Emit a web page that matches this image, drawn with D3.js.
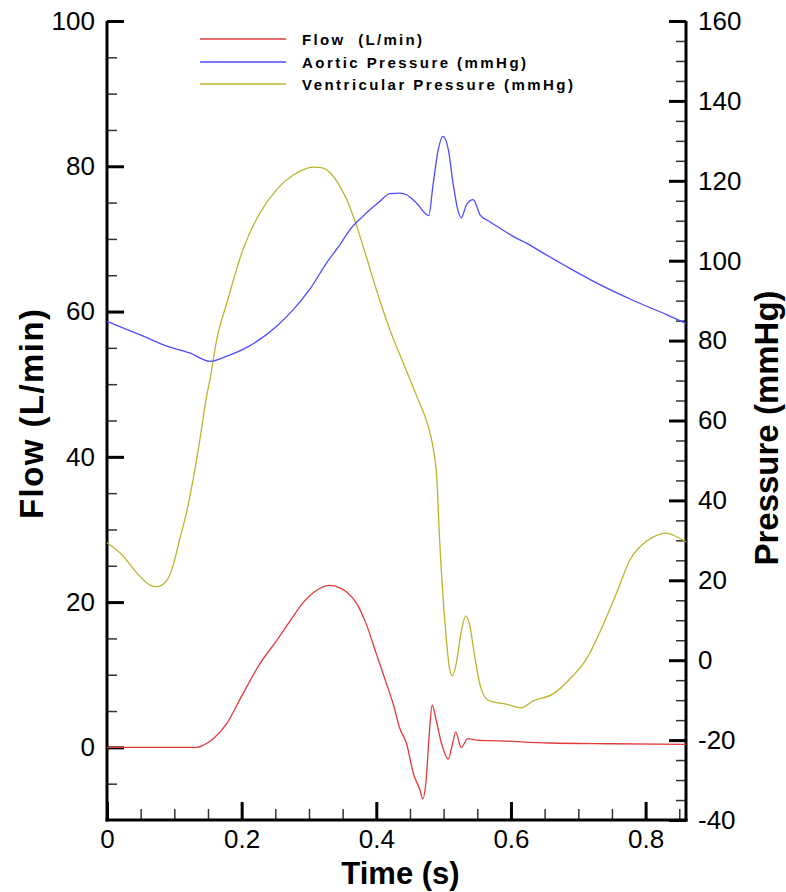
<!DOCTYPE html>
<html><head><meta charset="utf-8">
<script src="https://cdn.jsdelivr.net/npm/d3@7"></script>
<style>
html,body{margin:0;padding:0;background:#fff;}
svg{display:block;font-family:"Liberation Sans",Arial,sans-serif;}
</style></head>
<body>
<svg id="chart" width="786" height="892"></svg>
<script>
// ---- data ----
const flowTime = [0,0.05,0.10,0.134,0.145,0.158,0.178,0.202,0.227,0.252,0.272,0.291,0.311,0.331,0.345,0.356,0.371,0.385,0.400,0.415,0.425,0.435,0.445,0.455,0.465,0.469,0.474,0.479,0.483,0.489,0.497,0.507,0.512,0.518,0.526,0.536,0.549,0.583,0.657,0.75,0.86];
const flowValues = [0,0,0,0,0.4,1.2,3.3,7.4,11.5,14.7,17.4,19.9,21.6,22.3,22.0,21.4,19.8,17.0,12.9,8.8,6.0,2.6,0.5,-3.6,-5.9,-7.1,-4.5,2.3,5.8,3.7,0.5,-1.6,0.0,2.1,0.0,1.2,1.0,0.9,0.6,0.5,0.4];

const aorticTime = [0,0.029,0.054,0.089,0.123,0.153,0.178,0.202,0.227,0.252,0.277,0.301,0.326,0.346,0.361,0.380,0.405,0.420,0.435,0.445,0.460,0.478,0.484,0.492,0.499,0.507,0.514,0.521,0.526,0.534,0.544,0.554,0.568,0.583,0.603,0.623,0.638,0.682,0.732,0.781,0.831,0.86];
const aorticValues = [84.8,82.8,81.1,78.6,76.9,74.8,76.1,77.8,80.3,83.6,87.8,92.8,99.4,104,107.8,111.1,114.8,116.8,116.9,116.5,114.4,111.3,118.6,127.8,131.1,127.8,119.4,112.8,110.7,114,115.3,111.5,109.8,108.2,106.1,104.4,102.9,98.6,94,90.1,86.5,84.3];

const ventTime = [0,0.024,0.044,0.064,0.074,0.089,0.098,0.108,0.118,0.128,0.138,0.148,0.153,0.163,0.178,0.202,0.227,0.252,0.277,0.292,0.306,0.318,0.331,0.346,0.356,0.371,0.385,0.400,0.420,0.440,0.460,0.477,0.484,0.490,0.494,0.499,0.504,0.509,0.513,0.519,0.526,0.533,0.539,0.546,0.556,0.568,0.593,0.615,0.633,0.662,0.692,0.712,0.732,0.747,0.761,0.776,0.791,0.811,0.831,0.846,0.86];
const ventValues = [29.4,26.1,21.9,18.8,18.4,20.0,23.6,30.3,36.9,45.3,55.3,66.1,70.3,80.3,89.4,102.8,111.9,117.8,121.5,122.8,123.4,123.3,122.1,118.6,115.3,108.6,101.1,92.8,82.8,74.4,66.1,58.6,53.6,45.3,30.3,16.1,5.3,-2.3,-3.9,-0.6,7.0,11.1,8.6,1.1,-7.3,-10.2,-11.0,-11.9,-10.2,-8.5,-3.9,0.25,7.0,12.8,18.6,24.9,28.3,30.8,31.8,30.9,29.6];

const xTicks = [0,0.2,0.4,0.6,0.8];
const xMinorTicks = [0.05,0.1,0.15,0.25,0.3,0.35,0.45,0.5,0.55,0.65,0.7,0.75,0.85];
const flowTicks = [0,20,40,60,80,100];
const flowMinorTicks = [-5,5,10,15,25,30,35,45,50,55,65,70,75,85,90,95];
const pressureTicks = [-40,-20,0,20,40,60,80,100,120,140,160];
const pressureMinorTicks = d3.range(-35,160,5).filter(v => v % 20 !== 0);

const seriesNames = ["Flow  (L/min)","Aortic Pressure (mmHg)","Ventricular Pressure (mmHg)"];
const seriesColors = ["#e23a3a","#4b4bff","#bdb42e"];

// ---- layout ----
const L = 107, R = 686, T = 21, B = 820;
const svg = d3.select("#chart");
const x = d3.scaleLinear().domain([0,0.86]).range([L,R]);
const yF = d3.scaleLinear().domain([-10,100]).range([B,T]);
const yP = d3.scaleLinear().domain([-40,160]).range([B,T]);

const fmt = d => String(d);

function styleAxis(g, major){
  g.select(".domain").remove();
  g.selectAll(".tick line").attr("stroke", major ? "#000" : "#333").attr("stroke-width", major ? 3 : 1.5);
  g.selectAll("text").attr("font-size", 26).attr("fill","#000").attr("font-family",'"Liberation Sans",Arial,sans-serif');
}

// minor ticks
svg.append("g").attr("transform",`translate(0,${B})`)
  .call(d3.axisBottom(x).tickValues(xMinorTicks).tickSize(-11).tickFormat(""))
  .call(g=>styleAxis(g,false));
svg.append("g").attr("transform",`translate(${L},0)`)
  .call(d3.axisLeft(yF).tickValues(flowMinorTicks).tickSize(-10).tickFormat(""))
  .call(g=>styleAxis(g,false));
svg.append("g").attr("transform",`translate(${R},0)`)
  .call(d3.axisRight(yP).tickValues(pressureMinorTicks).tickSize(-10).tickFormat(""))
  .call(g=>styleAxis(g,false));

// major ticks
svg.append("g").attr("transform",`translate(0,${B})`)
  .call(d3.axisBottom(x).tickValues(xTicks).tickSize(-18).tickPadding(10).tickFormat(fmt))
  .call(g=>styleAxis(g,true));
svg.append("g").attr("transform",`translate(${L},0)`)
  .call(d3.axisLeft(yF).tickValues(flowTicks).tickSize(-17).tickPadding(12).tickFormat(fmt))
  .call(g=>styleAxis(g,true));
svg.append("g").attr("transform",`translate(${R},0)`)
  .call(d3.axisRight(yP).tickValues(pressureTicks).tickSize(-17).tickPadding(12).tickFormat(fmt))
  .call(g=>styleAxis(g,true));

// axis lines
svg.append("line").attr("x1",L).attr("x2",L).attr("y1",T).attr("y2",B+1.5).attr("stroke","#000").attr("stroke-width",3);
svg.append("line").attr("x1",R).attr("x2",R).attr("y1",T).attr("y2",B+1.5).attr("stroke","#000").attr("stroke-width",3);
svg.append("line").attr("x1",L-1.5).attr("x2",R+1.5).attr("y1",B).attr("y2",B).attr("stroke","#000").attr("stroke-width",3);

// curves
const lineF = d3.line().curve(d3.curveMonotoneX).x(d=>x(d[0])).y(d=>yF(d[1]));
const lineP = d3.line().curve(d3.curveMonotoneX).x(d=>x(d[0])).y(d=>yP(d[1]));
const g = svg.append("g");
g.append("path").datum(ventTime.map((t,i)=>[t,ventValues[i]])).attr("d",lineP)
  .attr("fill","none").attr("stroke",seriesColors[2]).attr("stroke-width",1.3);
g.append("path").datum(aorticTime.map((t,i)=>[t,aorticValues[i]])).attr("d",lineP)
  .attr("fill","none").attr("stroke",seriesColors[1]).attr("stroke-width",1.3);
g.append("path").datum(flowTime.map((t,i)=>[t,flowValues[i]])).attr("d",lineF)
  .attr("fill","none").attr("stroke",seriesColors[0]).attr("stroke-width",1.3);

// legend
const legY = [39,62,84];
const legLen = [120,224,271];
seriesNames.forEach((n,i)=>{
  svg.append("line").attr("x1",200).attr("x2",286).attr("y1",legY[i]).attr("y2",legY[i])
    .attr("stroke",seriesColors[i]).attr("stroke-width",1.3);
  svg.append("text").attr("x",302).attr("y",legY[i]+5.5).attr("font-size",15).attr("font-weight","bold")
    .attr("textLength",legLen[i]).attr("lengthAdjust","spacing").attr("xml:space","preserve")
    .style("white-space","pre").text(n);
});

// axis titles
svg.append("text").attr("x",(L+R)/2+4).attr("y",884).attr("text-anchor","middle")
  .attr("font-size",31).attr("font-weight","bold").text("Time (s)");
svg.append("text").attr("transform","translate(43,414) rotate(-90)").attr("text-anchor","middle")
  .attr("font-size",33).attr("font-weight","bold").attr("textLength",210).attr("lengthAdjust","spacing").text("Flow (L/min)");
svg.append("text").attr("transform","translate(778,428) rotate(-90)").attr("text-anchor","middle")
  .attr("font-size",33).attr("font-weight","bold").text("Pressure (mmHg)");
</script>
</body></html>
